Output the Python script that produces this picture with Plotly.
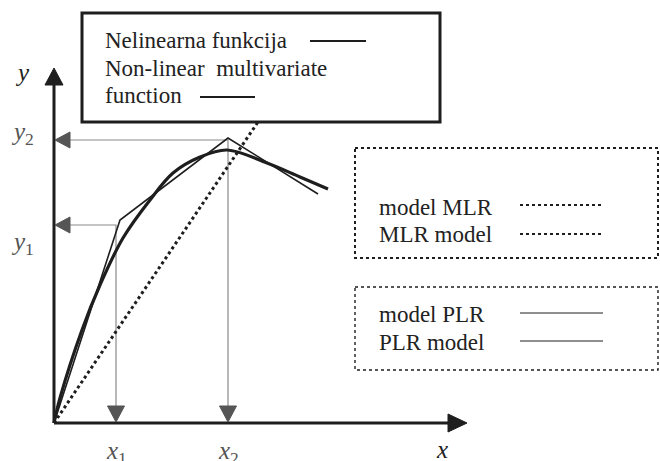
import plotly.graph_objects as go

# ---------------- data (diagram units) ----------------
curve_x = [0, 0.6, 2.8, 4.6, 6.9, 9.6, 11.9, 14.6, 17.3, 21.3, 24.6, 27.4]
curve_y = [0, 2.5, 9.3, 13.8, 18.5, 22.3, 25.0, 26.6, 27.3, 26.0, 24.6, 23.4]

plr_x = [0, 6.6, 17.4, 26.4]
plr_y = [0, 20.3, 28.5, 22.9]

mlr_x = [0, 20.4]
mlr_y = [0, 30.1]

x_marks = [6.2, 17.4]      # x1, x2
y_marks = [19.8, 28.3]     # y1, y2
x_mark_labels = ["<i>x</i><sub>1</sub>", "<i>x</i><sub>2</sub>"]
y_mark_labels = ["<i>y</i><sub>1</sub>", "<i>y</i><sub>2</sub>"]

x_axis_end = 41.3
y_axis_end = 35.5

legend_top = ["Nelinearna funkcija", "Non-linear  multivariate", "function"]
legend_mlr = ["model MLR", "MLR model"]
legend_plr = ["model PLR", "PLR model"]

# ---------------- layout helpers ----------------
W, H = 660, 461
OX, OY = 54, 423          # origin in pixels
PX = 10.0                 # pixels per unit
XR = [-OX / PX, (W - OX) / PX]
YR = [-(H - OY) / PX, OY / PX]
u = 1.0 / PX              # one pixel in data units

def tri(tx, ty, direction, length, width):
    L, Wd = length * u, width * u / 2
    if direction == "left":
        return [tx, tx + L, tx + L, tx], [ty, ty + Wd, ty - Wd, ty]
    if direction == "right":
        return [tx, tx - L, tx - L, tx], [ty, ty + Wd, ty - Wd, ty]
    if direction == "down":
        return [tx, tx - Wd, tx + Wd, tx], [ty, ty + L, ty + L, ty]
    return [tx, tx - Wd, tx + Wd, tx], [ty, ty - L, ty - L, ty]

def px(x):
    return x / W

def py(y):
    return 1 - y / H

SERIF = "Liberation Serif"
INK = "#1e1e1e"
GUIDE = "#8a8a8a"
HEAD = "#555555"

fig = go.Figure()

# guide lines
for xm, ym in zip(x_marks, y_marks):
    fig.add_trace(go.Scatter(x=[0, xm, xm], y=[ym, ym, 0], mode="lines",
                             line=dict(color=GUIDE, width=1.2), hoverinfo="skip"))

# MLR dotted line
fig.add_trace(go.Scatter(x=mlr_x, y=mlr_y, mode="lines",
                         line=dict(color=INK, width=3, dash="dot"), hoverinfo="skip"))
# PLR thin line
fig.add_trace(go.Scatter(x=plr_x, y=plr_y, mode="lines",
                         line=dict(color=INK, width=1.6), hoverinfo="skip"))
# nonlinear function
fig.add_trace(go.Scatter(x=curve_x, y=curve_y, mode="lines",
                         line=dict(color=INK, width=3.2, shape="spline", smoothing=1.0),
                         hoverinfo="skip"))

# axes
fig.add_trace(go.Scatter(x=[0, x_axis_end - 10 * u], y=[0, 0], mode="lines",
                         line=dict(color=INK, width=3), hoverinfo="skip"))
fig.add_trace(go.Scatter(x=[0, 0], y=[0, y_axis_end - 10 * u], mode="lines",
                         line=dict(color=INK, width=3), hoverinfo="skip"))

# arrowheads
heads = [tri(x_axis_end, 0, "right", 19, 18) + (INK,),
         tri(0, y_axis_end, "up", 17, 18) + (INK,)]
for ym in y_marks:
    heads.append(tri(0.1, ym, "left", 15, 16) + (HEAD,))
for xm in x_marks:
    heads.append(tri(xm, 0.1, "down", 16, 17) + (HEAD,))
for hx, hy, col in heads:
    fig.add_trace(go.Scatter(x=hx, y=hy, mode="lines", fill="toself",
                             fillcolor=col, line=dict(color=col, width=1), hoverinfo="skip"))

# axis labels
ann = []
def label(x, y, text, size=25, color="#333333", xref="x", yref="y"):
    ann.append(dict(x=x, y=y, xref=xref, yref=yref, text=text, showarrow=False,
                    xanchor="center", yanchor="middle",
                    font=dict(family=SERIF, size=size, color=color)))

label(px(22), py(72), "<i>y</i>", xref="paper", yref="paper", color="#222222")
label(px(442), py(449), "<i>x</i>", xref="paper", yref="paper", color="#222222")
for xm, t in zip(x_marks, x_mark_labels):
    ann.append(dict(x=xm, y=py(452), xref="x", yref="paper", text=t,
                    showarrow=False, xanchor="center", yanchor="middle",
                    font=dict(family=SERIF, size=25, color="#555555")))
for ym, t, dy in zip(y_marks, y_mark_labels, [18, -7]):
    ann.append(dict(x=px(22), y=ym, xref="paper", yref="y", text=t,
                    showarrow=False, xanchor="center", yanchor="middle", yshift=-dy,
                    font=dict(family=SERIF, size=25, color="#555555")))

# legend boxes
shapes = []
shapes.append(dict(type="rect", xref="paper", yref="paper", x0=px(82), x1=px(440),
                   y0=py(13), y1=py(122), line=dict(color=INK, width=3)))
shapes.append(dict(type="rect", xref="paper", yref="paper", x0=px(355), x1=px(658),
                   y0=py(148), y1=py(258), line=dict(color=INK, width=2, dash="dot")))
shapes.append(dict(type="rect", xref="paper", yref="paper", x0=px(355), x1=px(658),
                   y0=py(287), y1=py(370), line=dict(color=INK, width=1.4, dash="dot")))

def text(x, y, s):
    ann.append(dict(x=px(x), y=py(y), xref="paper", yref="paper", text=s, showarrow=False,
                    xanchor="left", yanchor="middle",
                    font=dict(family=SERIF, size=23, color="#222222")))

def sample(x0, x1, y, width, dash="solid"):
    shapes.append(dict(type="line", xref="paper", yref="paper", x0=px(x0), x1=px(x1),
                       y0=py(y), y1=py(y), line=dict(color=INK, width=width, dash=dash)))

text(103, 40, legend_top[0]); sample(310, 366, 41, 2)
text(103, 68, legend_top[1])
text(103, 95, legend_top[2]); sample(200, 255, 97, 2)

text(377, 207, legend_mlr[0]); sample(520, 603, 205, 2, "dot")
text(377, 234, legend_mlr[1]); sample(520, 603, 234, 2, "dot")
text(377, 314, legend_plr[0]); sample(520, 603, 313, 1)
text(377, 342, legend_plr[1]); sample(520, 603, 341, 1)

fig.update_layout(
    width=W, height=H, margin=dict(l=0, r=0, t=0, b=0),
    paper_bgcolor="white", plot_bgcolor="white", showlegend=False,
    xaxis=dict(range=XR, visible=False, fixedrange=True),
    yaxis=dict(range=YR, visible=False, fixedrange=True),
    shapes=shapes, annotations=ann,
)

fig.write_html("out.html", config={"displayModeBar": False},
               post_script="document.body.style.margin='0';document.body.style.overflow='hidden';")
